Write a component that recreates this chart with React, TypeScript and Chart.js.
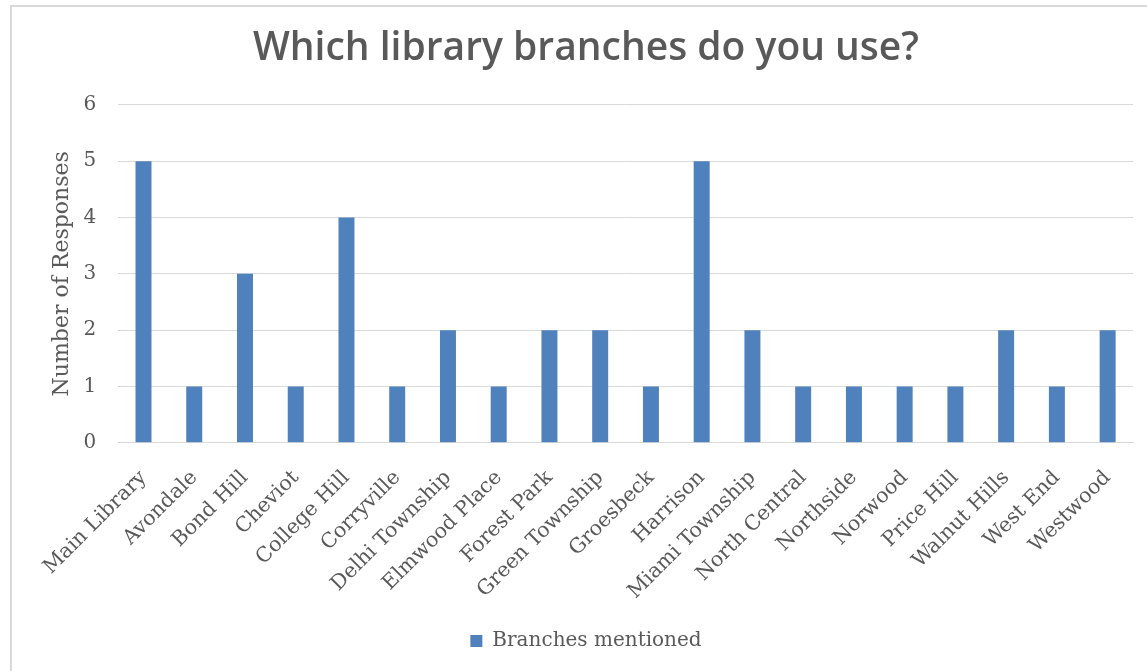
import React, { useEffect, useRef } from "react";
import { Chart, registerables } from "chart.js";

Chart.register(...registerables);

const categories = [
  "Main Library", "Avondale", "Bond Hill", "Cheviot", "College Hill", "Corryville",
  "Delhi Township", "Elmwood Place", "Forest Park", "Green Township", "Groesbeck",
  "Harrison", "Miami Township", "North Central", "Northside", "Norwood", "Price Hill",
  "Walnut Hills", "West End", "Westwood",
];
const branchesMentioned = [5, 1, 3, 1, 4, 1, 2, 1, 2, 2, 1, 5, 2, 1, 1, 1, 1, 2, 1, 2];
const seriesName = "Branches mentioned";
const chartTitle = "Which library branches do you use?";
const yAxisTitle = "Number of Responses";
const yMin = 0;
const yMax = 6;
const yStep = 1;

const SERIF = "'DejaVu Serif', serif";
const TEXT = "#595959";
const GRID = "#d9d9d9";
const BAR = "#4f81bd";

export default function App() {
  const ref = useRef<HTMLCanvasElement | null>(null);
  useEffect(() => {
    if (!ref.current) return;
    const chart = new Chart(ref.current, {
      type: "bar",
      data: {
        labels: categories,
        datasets: [
          {
            label: seriesName,
            data: branchesMentioned,
            backgroundColor: BAR,
            borderWidth: 0,
            categoryPercentage: 1,
            barPercentage: 0.315,
          },
        ],
      },
      options: {
        animation: false,
        responsive: true,
        maintainAspectRatio: false,
        layout: { padding: { left: 39, right: 14, top: 0, bottom: 10 } },
        plugins: {
          title: {
            display: true,
            text: chartTitle,
            color: TEXT,
            font: { family: "'Open Sans', sans-serif", size: 39, weight: "600" },
            padding: { top: 25, bottom: 33 },
          },
          legend: {
            position: "bottom",
            labels: {
              boxWidth: 12,
              boxHeight: 12,
              color: TEXT,
              font: { family: SERIF, size: 20 },
              padding: 12,
            },
          },
          tooltip: { enabled: false },
        },
        scales: {
          x: {
            grid: { display: false },
            border: { display: true, color: GRID, width: 1 },
            ticks: {
              color: TEXT,
              font: { family: SERIF, size: 20.5 },
              maxRotation: 45,
              minRotation: 45,
              autoSkip: false,
              padding: 15,
            },
          },
          y: {
            min: yMin,
            max: yMax,
            grid: { color: GRID, drawTicks: false },
            border: { display: false },
            ticks: {
              stepSize: yStep,
              color: TEXT,
              font: { family: SERIF, size: 20 },
              padding: 22,
            },
            title: {
              display: true,
              text: yAxisTitle,
              color: TEXT,
              font: { family: SERIF, size: 22 },
              padding: { top: 10, bottom: -14 },
            },
          },
        },
      },
    });
    return () => chart.destroy();
  }, []);

  return (
    <div style={{ position: "fixed", left: 0, top: 0, width: 1147, height: 671, background: "#fff", overflow: "hidden" }}>
      <div
        style={{
          position: "absolute",
          left: 10,
          top: 5,
          width: 1160,
          height: 700,
          borderTop: "2px solid #d9d9d9",
          borderLeft: "2px solid #d9d9d9",
          boxSizing: "border-box",
        }}
      />
      <div style={{ position: "absolute", left: 0, top: 0, width: 1147, height: 671 }}>
        <canvas ref={ref} />
      </div>
    </div>
  );
}
